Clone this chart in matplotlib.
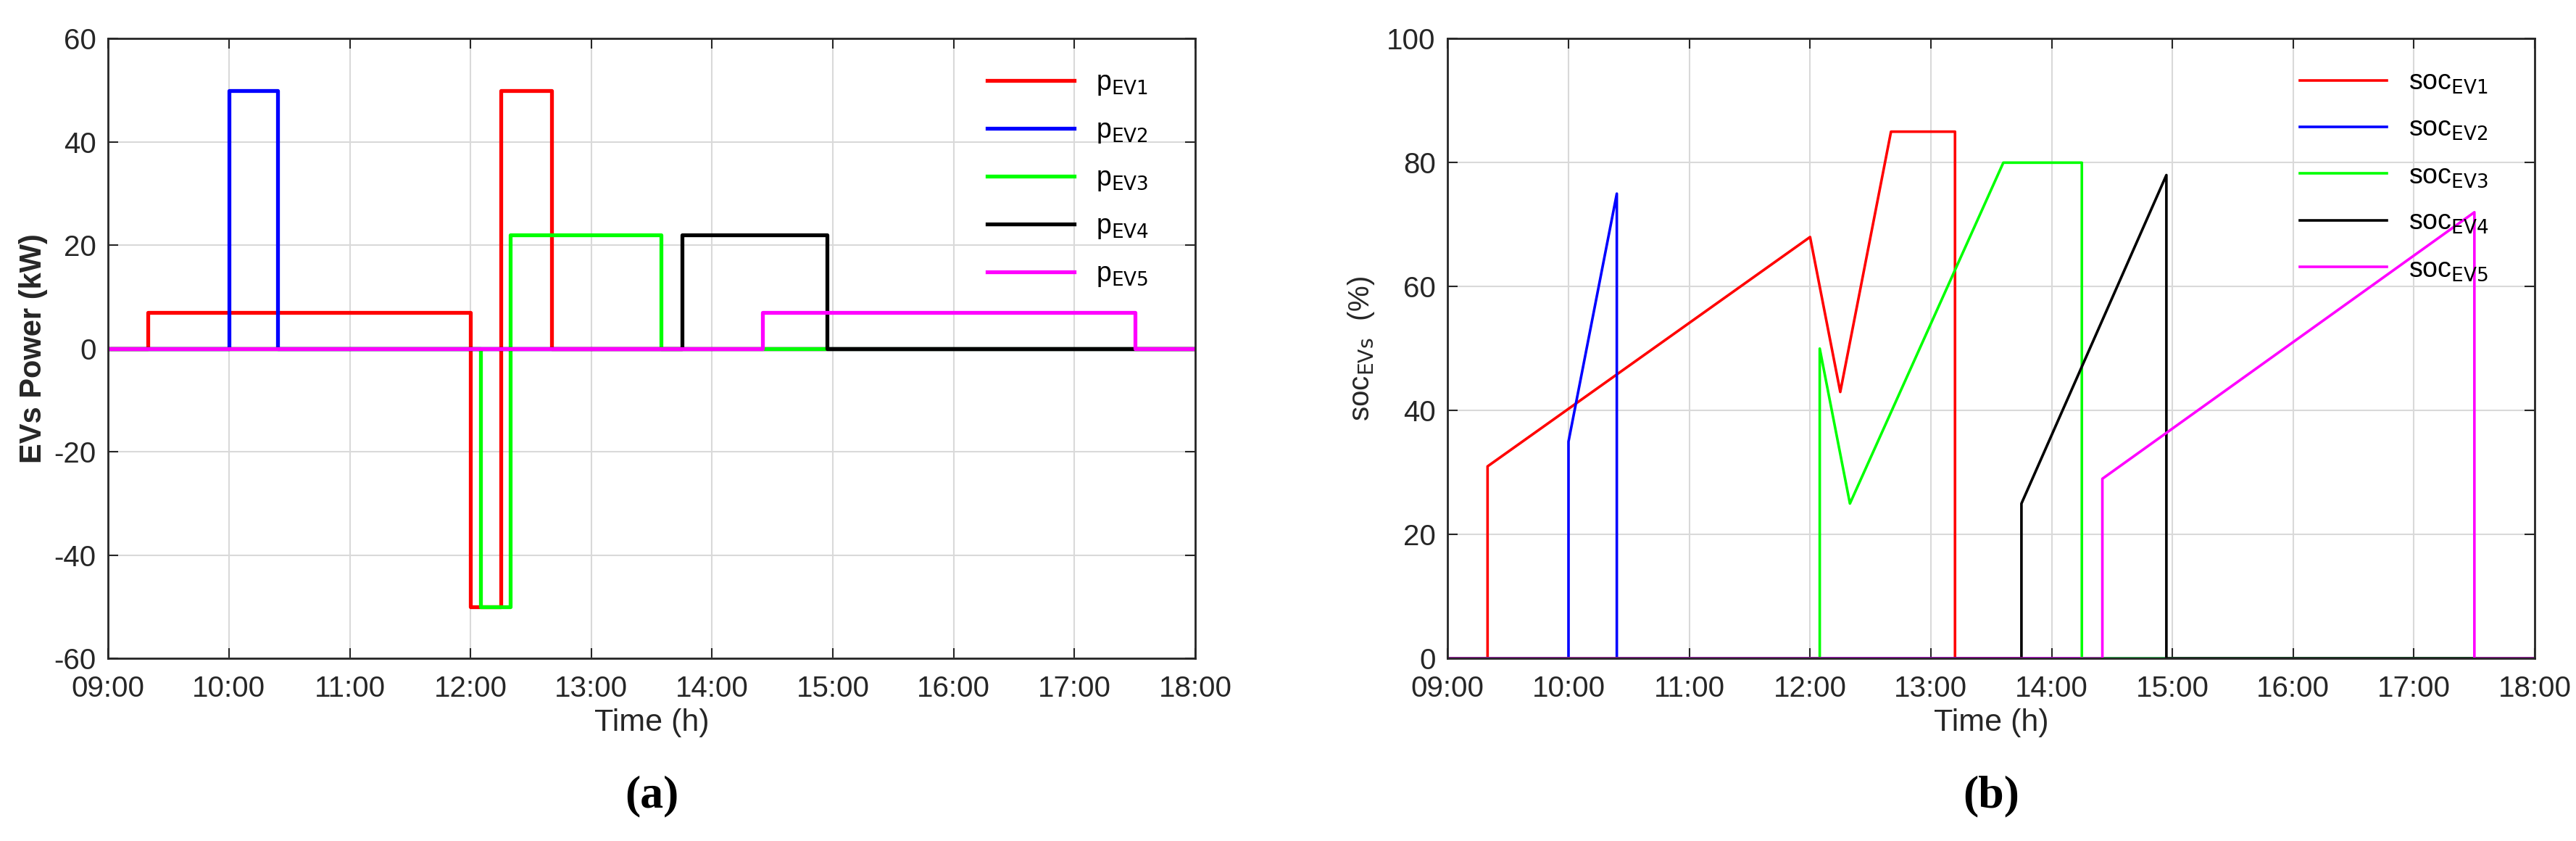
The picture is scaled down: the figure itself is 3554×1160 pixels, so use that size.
import matplotlib
matplotlib.use("Agg")
import matplotlib.pyplot as plt

plt.rcParams['font.family'] = ['Liberation Sans Narrow', 'Liberation Sans', 'DejaVu Sans']
plt.rcParams['mathtext.fontset'] = 'custom'
plt.rcParams['mathtext.rm'] = 'Liberation Sans Narrow'
plt.rcParams['axes.unicode_minus'] = False

labels = ['EV1', 'EV2', 'EV3', 'EV4', 'EV5']
colors = ['#ff0000', '#0000ff', '#00ff00', '#000000', '#ff00ff']
tick_hours = [9, 10, 11, 12, 13, 14, 15, 16, 17, 18]
tick_labels = ['09:00', '10:00', '11:00', '12:00', '13:00', '14:00', '15:00', '16:00', '17:00', '18:00']

# Power profiles (time h, kW) step vertices
p_t = [
    [9, 9.33, 9.33, 12.0, 12.0, 12.25, 12.25, 12.67, 12.67, 18],
    [9, 10.0, 10.0, 10.4, 10.4, 18],
    [9, 12.08, 12.08, 12.33, 12.33, 13.58, 13.58, 18],
    [9, 13.75, 13.75, 14.95, 14.95, 18],
    [9, 14.42, 14.42, 17.5, 17.5, 18],
]
p_v = [
    [0, 0, 7, 7, -50, -50, 50, 50, 0, 0],
    [0, 0, 50, 50, 0, 0],
    [0, 0, -50, -50, 22, 22, 0, 0],
    [0, 0, 22, 22, 0, 0],
    [0, 0, 7, 7, 0, 0],
]
# SOC profiles
s_t = [
    [9, 9.33, 9.33, 12.0, 12.25, 12.67, 13.2, 13.2, 18],
    [9, 10.0, 10.0, 10.4, 10.4, 18],
    [9, 12.08, 12.08, 12.33, 13.6, 14.25, 14.25, 18],
    [9, 13.75, 13.75, 14.95, 14.95, 18],
    [9, 14.42, 14.42, 17.5, 17.5, 18],
]
s_v = [
    [0, 0, 31, 68, 43, 85, 85, 0, 0],
    [0, 0, 35, 75, 0, 0],
    [0, 0, 50, 25, 80, 80, 0, 0],
    [0, 0, 25, 78, 0, 0],
    [0, 0, 29, 72, 0, 0],
]

fig = plt.figure(figsize=(35.54, 11.6), dpi=100)
ax1 = fig.add_axes([0.042, 0.217, 0.422, 0.737])
ax2 = fig.add_axes([0.562, 0.217, 0.422, 0.737])

for i in range(5):
    ax1.plot(p_t[i], p_v[i], color=colors[i], lw=3.8, label=r'p$_{\mathrm{%s}}$' % labels[i])
    ax2.plot(s_t[i], s_v[i], color=colors[i], lw=2.6, label=r'soc$_{\mathrm{%s}}$' % labels[i])

ax1.set_ylim(-60, 60)
ax1.set_yticks(range(-60, 61, 20))
ax2.set_ylim(0, 100)
ax2.set_yticks(range(0, 101, 20))
for ax in (ax1, ax2):
    ax.set_xlim(9, 18)
    ax.set_xticks(tick_hours)
    ax.set_xticklabels(tick_labels)
    ax.grid(True, color='#d9d9d9', lw=1.5)
    ax.tick_params(direction='in', length=10, width=1.5, top=True, right=True, labelsize=29, colors='#262626')
    ax.tick_params(axis='x', pad=16)
    ax.tick_params(axis='y', pad=12)
    for s in ax.spines.values():
        s.set_color('#262626'); s.set_linewidth(2)
    ax.set_xlabel('Time (h)', fontsize=31, color='#262626', labelpad=6)
    ax.legend(loc='upper right', frameon=False, fontsize=27, handlelength=3.2, labelspacing=0.75,
              bbox_to_anchor=(0.98, 0.99))
ax1.set_ylabel('EVs Power (kW)', fontsize=30, fontweight='bold', family=['Liberation Sans', 'DejaVu Sans'], color='#262626', labelpad=6)
ax2.set_ylabel(r'soc$_{\mathrm{EVs}}$  (%)', fontsize=29, color='#262626', labelpad=10)

fig.text(0.253, 0.04, '(a)', fontsize=46, family='Liberation Serif', fontweight='bold', ha='center')
fig.text(0.773, 0.04, '(b)', fontsize=46, family='Liberation Serif', fontweight='bold', ha='center')

fig.savefig('out.png', dpi=100, facecolor='white')
